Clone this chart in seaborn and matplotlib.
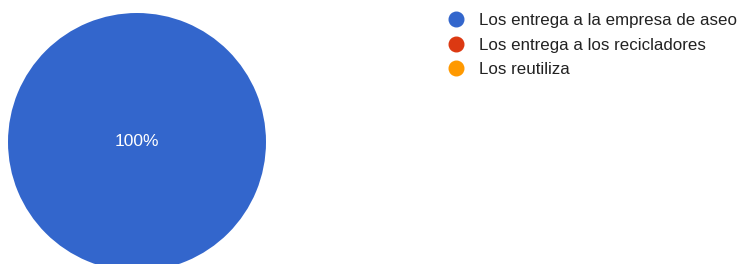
import matplotlib
matplotlib.use("Agg")
import matplotlib.pyplot as plt
from matplotlib.lines import Line2D
import seaborn as sns

# data
categories = ['Los entrega a la empresa de aseo', 'Los entrega a los recicladores', 'Los reutiliza']
values = [100, 0, 0]
colors = sns.color_palette(['#3366cc', '#dc3912', '#ff9900'])

sns.set_style('white')
plt.rcParams['font.family'] = ['Liberation Sans', 'DejaVu Sans']

fig = plt.figure(figsize=(7.43, 2.64), dpi=100)
ax = fig.add_axes([8 / 743, -7 / 264, 258 / 743, 258 / 264])

ax.pie(values, colors=colors, startangle=90, counterclock=False, pctdistance=0,
       autopct=lambda p: f'{p:.0f}%' if p > 0 else '',
       textprops={'color': 'white', 'fontsize': 12.5},
       wedgeprops={'linewidth': 0})
ax.set_xlim(-1, 1)
ax.set_ylim(-1, 1)
ax.set_aspect('equal')

handles = [Line2D([0], [0], marker='o', linestyle='', markersize=10.5,
                  markerfacecolor=c, markeredgecolor=c) for c in colors]
fig.legend(handles, categories, loc='upper left', bbox_to_anchor=(432 / 743, 1 + 2 / 264),
           frameon=False, fontsize=12.2, handletextpad=0.9, labelspacing=0.55,
           handlelength=1.0, labelcolor='#222222')

fig.savefig('out.png', dpi=100)
